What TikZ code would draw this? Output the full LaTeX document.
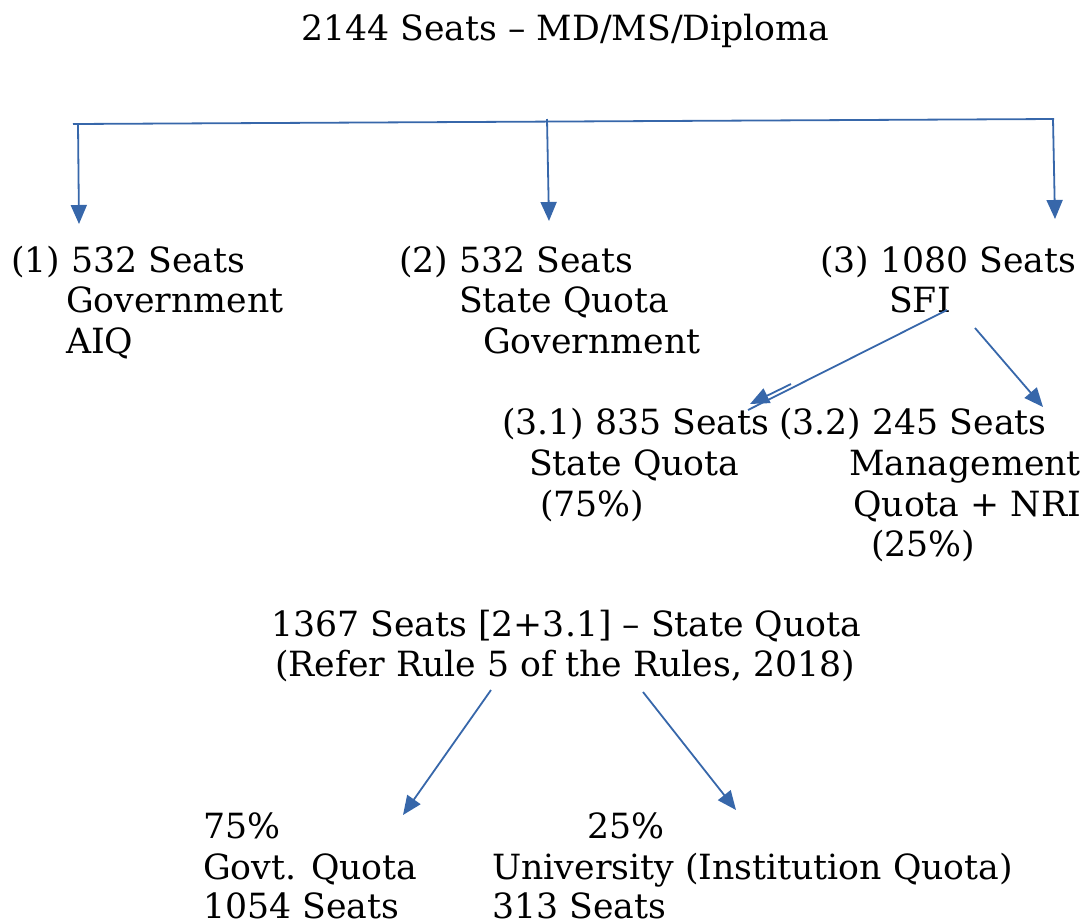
\documentclass[tikz,border=0pt]{standalone}
\usepackage{fontspec}
\setmainfont{DejaVu Serif}
\usetikzlibrary{arrows.meta}
\definecolor{arr}{RGB}{55,103,170}
\begin{document}
\begin{tikzpicture}[x=1pt,y=-1pt,
  txt/.style={anchor=base west,inner sep=0pt,font=\fontsize{34.7}{40}\selectfont},
  conn/.style={draw=arr,line width=1.8pt},
  arrowc/.style={conn,-{Triangle[length=19pt,width=16pt]}}]
\useasboundingbox (0,0) rectangle (1087,922);
% title
\node[txt] (title) at (301,40) {2144 Seats – MD/MS/Diploma};
% level 1
\node[txt] (a1) at (11,272) {(1) 532 Seats};
\node[txt] (a2) at (66,312) {Government};
\node[txt] (a3) at (66,353) {AIQ};
\node[txt] (b1) at (399,272) {(2) 532 Seats};
\node[txt] (b2) at (459,312) {State Quota};
\node[txt] (b3) at (483,353) {Government};
\node[txt] (c1) at (820,272) {(3) 1080 Seats};
\node[txt] (c2) at (889,312) {SFI};
% level 2
\node[txt] (d1) at (502,434) {(3.1) 835 Seats};
\node[txt] (d2) at (529,475) {State Quota};
\node[txt] (d3) at (540,516) {(75\%)};
\node[txt] (e1) at (779,434) {(3.2) 245 Seats};
\node[txt] (e2) at (849,475) {Management};
\node[txt] (e3) at (853,516) {Quota + NRI};
\node[txt] (e4) at (871,556) {(25\%)};
% state quota
\node[txt] (f1) at (271,636) {1367 Seats [2+3.1] – State Quota};
\node[txt] (f2) at (275,676) {(Refer Rule 5 of the Rules, 2018)};
% bottom
\node[txt] (g1) at (203,838) {75\%};
\node[txt] (g2) at (203,879) {Govt. Quota};
\node[txt] (g3) at (203,918) {1054 Seats};
\node[txt] (h1) at (587,838) {25\%};
\node[txt] (h2) at (492,879) {University (Institution Quota)};
\node[txt] (h3) at (492,918) {313 Seats};
% connector coordinates
\coordinate (busL) at (73,124);
\coordinate (busR) at (1054,119);
\coordinate (s1) at (78,124);
\coordinate (t1) at (79,224);
\coordinate (s2) at (547,119);
\coordinate (t2) at (549,221);
\coordinate (s3) at (1053,119);
\coordinate (t3) at (1055,219);
\coordinate (sfiA) at (947,310);
\coordinate (sfiAend) at (748,410);
\coordinate (sfiB) at (791,384);
\coordinate (sfiBend) at (750,404);
\coordinate (sfiC) at (975,328);
\coordinate (sfiCend) at (1043,407);
\coordinate (sqA) at (491,690);
\coordinate (sqAend) at (403,815);
\coordinate (sqB) at (643,692);
\coordinate (sqBend) at (736,810);
% connectors
\draw[conn] (busL) -- (busR);
\draw[arrowc] (s1) -- (t1);
\draw[arrowc] (s2) -- (t2);
\draw[arrowc] (s3) -- (t3);
\draw[conn] (sfiA) -- (sfiAend);
\draw[arrowc] (sfiB) -- (sfiBend);
\draw[arrowc] (sfiC) -- (sfiCend);
\draw[arrowc] (sqA) -- (sqAend);
\draw[arrowc] (sqB) -- (sqBend);
\end{tikzpicture}
\end{document}
